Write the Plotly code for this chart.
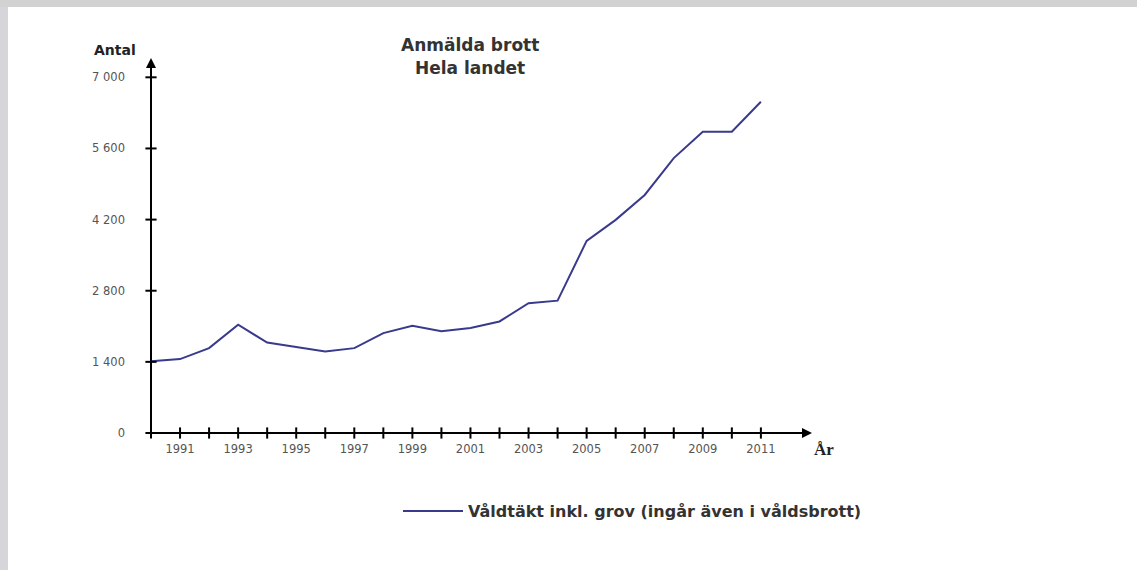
import plotly.graph_objects as go

years = list(range(1990, 2012))
values = [1410, 1455, 1670, 2130, 1780, 1690, 1605, 1670, 1965, 2110,
          2005, 2065, 2195, 2555, 2605, 3780, 4195, 4685, 5410, 5930,
          5930, 6520]
series_name = "Våldtäkt inkl. grov (ingår även i våldsbrott)"
x_tickvals = [1991, 1993, 1995, 1997, 1999, 2001, 2003, 2005, 2007, 2009, 2011]
x_ticktext = ["1991", "1993", "1995", "1997", "1999", "2001", "2003", "2005", "2007", "2009", "2011"]
y_tickvals = [0, 1400, 2800, 4200, 5600, 7000]
y_ticktext = ["0", "1 400", "2 800", "4 200", "5 600", "7 000"]

W, H = 1137, 570
L, R, T, B = 151, 325, 58, 137
PW, PH = W - L - R, H - T - B
XMAX, YMAX = 2012.76, 7380
LINE_COLOR = "#3a3a8c"


def px(xp):
    return (xp - L) / PW


def py(yp):
    return (H - B - yp) / PH


fig = go.Figure()
fig.add_trace(go.Scatter(x=years, y=values, mode="lines", name=series_name,
                         line=dict(color=LINE_COLOR, width=2)))
# tick marks crossing the axes
fig.add_trace(go.Scatter(x=years, y=[0] * len(years), mode="markers", showlegend=False,
                         hoverinfo="skip", cliponaxis=False,
                         marker=dict(symbol="line-ns", size=8, color="black",
                                     line=dict(width=2, color="black"))))
fig.add_trace(go.Scatter(x=[1990] * len(y_tickvals), y=y_tickvals, mode="markers", showlegend=False,
                         hoverinfo="skip", cliponaxis=False,
                         marker=dict(symbol="line-ew", size=8, color="black",
                                     line=dict(width=2, color="black"))))

tickfont = dict(family="DejaVu Sans", size=11.5, color="#555555")
fig.update_layout(
    width=W, height=H,
    margin=dict(l=L, r=R, t=T, b=B, pad=0),
    paper_bgcolor="white", plot_bgcolor="white",
    showlegend=True,
    legend=dict(orientation="h", x=px(418), y=py(511), xanchor="left", yanchor="middle",
                font=dict(family="DejaVu Sans", size=16, color="#333333", weight="bold"),
                itemwidth=40, bgcolor="rgba(0,0,0,0)"),
    xaxis=dict(range=[1990, XMAX], showgrid=False, zeroline=False, showline=False,
               tickvals=x_tickvals, ticktext=x_ticktext, ticks="", tickfont=tickfont,
               ticklabelstandoff=7),
    yaxis=dict(range=[0, YMAX], showgrid=False, zeroline=False, showline=False,
               tickvals=y_tickvals, ticktext=y_ticktext, ticks="", tickfont=tickfont,
               ticklabelstandoff=25),
)

# axis lines with arrow heads
fig.add_annotation(x=XMAX, y=0, ax=1990, ay=0, xref="x", yref="y", axref="x", ayref="y",
                   showarrow=True, arrowhead=2, arrowsize=1, arrowwidth=2, arrowcolor="black", text="")
fig.add_annotation(x=1990, y=YMAX, ax=1990, ay=0, xref="x", yref="y", axref="x", ayref="y",
                   showarrow=True, arrowhead=2, arrowsize=1, arrowwidth=2, arrowcolor="black", text="")

# texts
def label(xp, yp, text, family, size, color):
    fig.add_annotation(x=px(xp), y=py(yp), xref="paper", yref="paper", showarrow=False,
                       xanchor="center", yanchor="middle", text=text,
                       font=dict(family=family, size=size, color=color))


label(470, 45, "<b>Anmälda brott</b>", "DejaVu Sans", 17, "#333333")
label(470, 68, "<b>Hela landet</b>", "DejaVu Sans", 17, "#333333")
label(115, 50, "<b>Antal</b>", "DejaVu Sans", 14, "#222222")
label(824, 450, "<b>År</b>", "Liberation Serif", 17, "#222222")

# legend sample extension (longer line sample as in the original)
fig.add_shape(type="line", xref="paper", yref="paper", x0=px(403), x1=px(430), y0=py(511), y1=py(511),
              line=dict(color=LINE_COLOR, width=2))

# grey frame strips
fig.add_shape(type="rect", xref="paper", yref="paper", x0=px(0), x1=px(8), y0=py(H), y1=py(0),
              fillcolor="#d6d6da", line=dict(width=0), layer="below")
fig.add_shape(type="rect", xref="paper", yref="paper", x0=px(0), x1=px(W), y0=py(7), y1=py(0),
              fillcolor="#d2d2d2", line=dict(width=0), layer="below")

fig.write_html("out.html", config={"displayModeBar": False},
               post_script="document.body.style.margin='0px';")
